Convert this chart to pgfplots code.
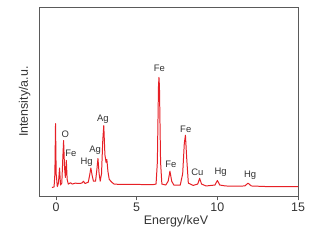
\documentclass[border=0pt]{standalone}
\usepackage{pgfplots}
\pgfplotsset{compat=1.18}
\usepackage{fontspec}
\setmainfont{Liberation Sans}
\definecolor{specred}{RGB}{230,32,38}
\definecolor{axgray}{RGB}{90,90,90}
\begin{document}
\begin{tikzpicture}
\path (-40bp,-43bp) rectangle (281bp,197bp);
\begin{axis}[
  scale only axis,
  width=259bp, height=190bp,
  xmin=-1, xmax=15, ymin=0, ymax=100,
  xtick={0,5,10,15}, ytick=\empty,
  tick align=outside, xtick pos=bottom,
  major tick length=4bp,
  axis line style={axgray, line width=0.8pt},
  tick style={axgray, line width=0.8pt},
  /pgf/number format/assume math mode=true,
  tick label style={font=\fontsize{12.5}{14}\selectfont, text=black!80},
  xticklabel style={yshift=1bp},
  xlabel={Energy/keV},
  ylabel={Intensity/a.u.},
  label style={font=\fontsize{12.5}{15}\selectfont, text=black!80},
  xlabel style={xshift=7bp, yshift=3bp},
  ylabel style={yshift=2bp},
  clip=false,
]
\addplot[specred, line width=1pt, line join=round] coordinates {
(-0.25,4.7) (-0.12,5) (-0.07,12) (-0.03,38.4) (0.01,12) (0.08,5.2)
(0.15,7) (0.22,15) (0.28,6) (0.36,7) (0.42,20) (0.47,29.5) (0.53,15)
(0.58,10) (0.64,19) (0.69,9) (0.76,6.5) (0.9,7.2) (1.0,6.5) (1.2,7)
(1.4,6.8) (1.6,7) (1.7,8) (1.8,6.8) (2.0,7.5) (2.08,11) (2.16,15)
(2.24,11) (2.32,8) (2.45,8) (2.53,14) (2.6,20) (2.67,12) (2.74,8)
(2.82,12) (2.9,30) (2.96,37.4) (3.03,22) (3.1,18) (3.15,19.5) (3.22,13)
(3.3,9) (3.45,7.5) (3.6,6.5) (4.0,6.3) (5.0,6.3) (6.0,6.2) (6.2,6.5)
(6.28,18) (6.35,58) (6.38,62.8) (6.41,58) (6.48,18) (6.56,6.5)
(6.8,6) (6.95,8) (7.06,13.3) (7.17,8) (7.3,6) (7.7,6) (7.85,12)
(7.95,28) (8.02,32.3) (8.1,20) (8.2,7) (8.5,5.8) (8.78,6.5) (8.9,9.5)
(9.02,6.5) (9.3,5.5) (9.85,6) (10.0,8.4) (10.15,6) (10.5,5.5) (11.0,5.4)
(11.7,5.5) (11.9,7) (12.1,5.5) (13,5.2) (14,5.1) (15,5.1)
};
\begin{scope}[every node/.style={font=\fontsize{9.5}{11}\selectfont, text=black!80}]
\node at (axis cs:0.57,33) {O};
\node at (axis cs:0.92,22.5) {Fe};
\node at (axis cs:1.9,18) {Hg};
\node at (axis cs:2.42,24.4) {Ag};
\node at (axis cs:2.9,40.9) {Ag};
\node at (axis cs:6.4,67.4) {Fe};
\node at (axis cs:7.12,17) {Fe};
\node at (axis cs:8.04,35.6) {Fe};
\node at (axis cs:8.76,12.8) {Cu};
\node at (axis cs:10.2,12.5) {Hg};
\node at (axis cs:12.03,11) {Hg};
\end{scope}
\end{axis}
\end{tikzpicture}
\end{document}
